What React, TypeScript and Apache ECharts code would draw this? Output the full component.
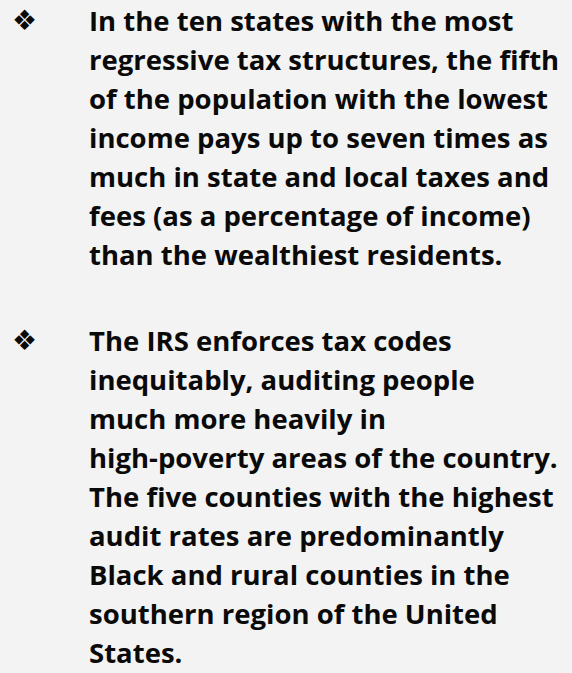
import React, { useEffect, useRef } from "react";
import * as echarts from "echarts";

const bulletOneLines: string[] = [
  "In the ten states with the most",
  "regressive tax structures, the fifth",
  "of the population with the lowest",
  "income pays up to seven times as",
  "much in state and local taxes and",
  "fees (as a percentage of income)",
  "than the wealthiest residents.",
];

const bulletTwoLines: string[] = [
  "The IRS enforces tax codes",
  "inequitably, auditing people",
  "much more heavily in",
  "high-poverty areas of the country.",
  "The five counties with the highest",
  "audit rates are predominantly",
  "Black and rural counties in the",
  "southern region of the United",
  "States.",
];

const bulletSymbol = "\u2756";

const W = 572;
const H = 673;
const TEXT_X = 89;
const LINE_H = 39;
const BLOCK_CENTERS = [20.5, 340.5];
const FONT = "'Open Sans', sans-serif";
const FONT_SIZE = 27.5;
const COLOR = "#0a0a0a";

export default function App() {
  const ref = useRef<HTMLDivElement>(null);
  useEffect(() => {
    document.body.style.margin = "0";
    if (!ref.current) return;
    const chart = echarts.init(ref.current, undefined, { renderer: "svg" });
    const blocks = [bulletOneLines, bulletTwoLines];
    const elements: any[] = [];
    blocks.forEach((lines, bi) => {
      const c = BLOCK_CENTERS[bi];
      elements.push({
        type: "text",
        x: 24.5,
        y: c,
        style: {
          text: bulletSymbol,
          fill: COLOR,
          fontFamily: "'DejaVu Sans'",
          fontSize: 28,
          align: "center",
          verticalAlign: "middle",
        },
      });
      lines.forEach((line, li) => {
        elements.push({
          type: "text",
          x: TEXT_X,
          y: c + li * LINE_H,
          style: {
            text: line,
            fill: COLOR,
            fontFamily: FONT,
            fontWeight: 700,
            fontSize: FONT_SIZE,
            align: "left",
            verticalAlign: "middle",
          },
        });
      });
    });
    chart.setOption({
      animation: false,
      backgroundColor: "#f3f3f3",
      graphic: { elements },
    });
    return () => chart.dispose();
  }, []);
  return <div ref={ref} style={{ width: W, height: H }} />;
}
